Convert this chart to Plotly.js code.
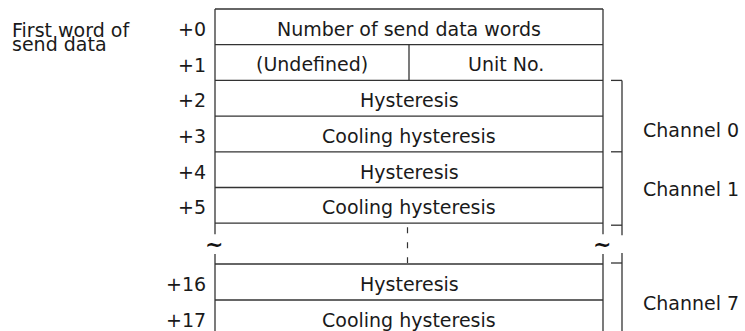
<!DOCTYPE html>
<html>
<head>
<meta charset="utf-8">
<script src="https://cdn.plot.ly/plotly-3.0.1.min.js"></script>
<style>
html,body{margin:0;padding:0;background:#fff;}
#chart{width:745px;height:331px;}
</style>
</head>
<body>
<div id="chart"></div>
<script>
// ---- data (labels of the memory map) ----
const headerLines = ["First word of", "send data"];
const offsets = ["+0", "+1", "+2", "+3", "+4", "+5", "+16", "+17"];
const fields = ["Number of send data words", "", "Hysteresis", "Cooling hysteresis",
                "Hysteresis", "Cooling hysteresis", "Hysteresis", "Cooling hysteresis"];
const splitFields = ["(Undefined)", "Unit No."];
const channels = ["Channel 0", "Channel 1", "Channel 7"];
const channelRows = [[2, 3], [4, 5], [6, 7]];
const breakMark = "~";

// ---- geometry (layout only) ----
const W = 745, H = 331;
const boxL = 215, boxR = 603, splitX = 409;
const upperTop = 9, upperRowH = 35.7, upperRows = 6;
const lowerTop = 264, lowerRowH = 36;
const bracketX = 622, tickL = 611;
const labelRightX = 207.5, headerX = 10, channelX = 641;
const lineColor = "#333333", textColor = "#1a1a1a";
const FONT = "DejaVu Sans, Liberation Sans, Arial, sans-serif";
const FS = 19;
const textShift = 2;

function rowTop(i) {
  return i < upperRows ? upperTop + i * upperRowH : lowerTop + (i - upperRows) * lowerRowH;
}
function rowBottom(i) {
  return i < upperRows ? upperTop + (i + 1) * upperRowH : lowerTop + (i - upperRows + 1) * lowerRowH;
}
const upperBottom = upperTop + upperRows * upperRowH;   // ~223
const breakMid = 245.5;

const shapes = [];
const ann = [];
function line(x0, y0, x1, y1, extra) {
  shapes.push(Object.assign({type: "line", xref: "x", yref: "y", x0, y0, x1, y1,
    line: {color: lineColor, width: 1.3}}, extra || {}));
}
function text(t, x, y, xanchor, extra) {
  ann.push(Object.assign({text: t, x, y, xref: "x", yref: "y", showarrow: false,
    xanchor: xanchor, yanchor: "middle", font: {family: FONT, size: FS, color: textColor}}, extra || {}));
}

// horizontal row lines
for (let i = 0; i < offsets.length; i++) {
  line(boxL, rowTop(i), boxR, rowTop(i));
}
line(boxL, upperBottom, boxR, upperBottom);
// box sides (broken)
const sideBreakTop = upperBottom + 11, sideBreakBot = lowerTop - 10;
[boxL, boxR].forEach(x => {
  line(x, upperTop, x, sideBreakTop);
  line(x, sideBreakBot, x, H + 10);
});
// split divider in row 1
line(splitX, rowTop(1), splitX, rowBottom(1));
// dashed continuation
line(splitX - 1.5, upperBottom + 4, splitX - 1.5, lowerTop - 1,
     {line: {color: lineColor, width: 1.2, dash: "6px,9px"}});

// brackets
line(bracketX, rowTop(2), bracketX, sideBreakTop + 1);
line(tickL, rowTop(2), bracketX, rowTop(2));
line(tickL, rowTop(4), bracketX, rowTop(4));
line(tickL, upperBottom + 2, bracketX, upperBottom + 2);
line(bracketX, sideBreakBot - 1, bracketX, H + 10);
line(tickL, lowerTop - 1, bracketX, lowerTop - 1);

// break marks
const tildeFont = {family: FONT, size: 22, color: "#111111", weight: 700};
text(breakMark, boxL - 1, breakMid - 1.5, "center", {font: tildeFont});
text(breakMark, boxR - 1, breakMid - 1.5, "center", {font: tildeFont});

// header (two tight lines in one text)
ann.push({text: headerLines.join("<br>"), x: headerX, y: 16.5, xref: "x", yref: "y",
  showarrow: false, xanchor: "left", yanchor: "top", align: "left",
  font: {family: FONT, size: FS, color: textColor}});

offsets.forEach((o, i) => {
  const cy = (rowTop(i) + rowBottom(i)) / 2 + textShift;
  text(o, labelRightX, cy, "right");
  if (i === 1) {
    text(splitFields[0], (boxL + splitX) / 2, cy - 1, "center");
    text(splitFields[1], (splitX + boxR) / 2, cy - 1, "center");
  } else {
    text(fields[i], (boxL + boxR) / 2, cy, "center");
  }
});
channels.forEach((c, k) => {
  const r = channelRows[k];
  let cy = (rowTop(r[0]) + rowBottom(r[1])) / 2;
  cy += (k === 0 ? 13.5 : (k === 1 ? 1.5 : 2.5));
  text(c, channelX, cy, "left");
});

const layout = {
  width: W, height: H,
  margin: {l: 0, r: 0, t: 0, b: 0},
  paper_bgcolor: "#fff", plot_bgcolor: "#fff",
  showlegend: false,
  xaxis: {range: [0, W], visible: false, fixedrange: true},
  yaxis: {range: [H, 0], visible: false, fixedrange: true},
  shapes: shapes,
  annotations: ann
};
Plotly.newPlot("chart", [{x: [], y: [], type: "scatter"}], layout,
  {staticPlot: true, displayModeBar: false}).then(gd => {
  // tighten line spacing of the two-line header like in the original figure
  gd.querySelectorAll(".annotation-text").forEach(t => {
    if (t.textContent.indexOf(headerLines[0]) === 0) {
      const lines = t.querySelectorAll("tspan.line");
      for (let i = 1; i < lines.length; i++) lines[i].setAttribute("dy", "0.76em");
    }
  });
});
</script>
</body>
</html>
